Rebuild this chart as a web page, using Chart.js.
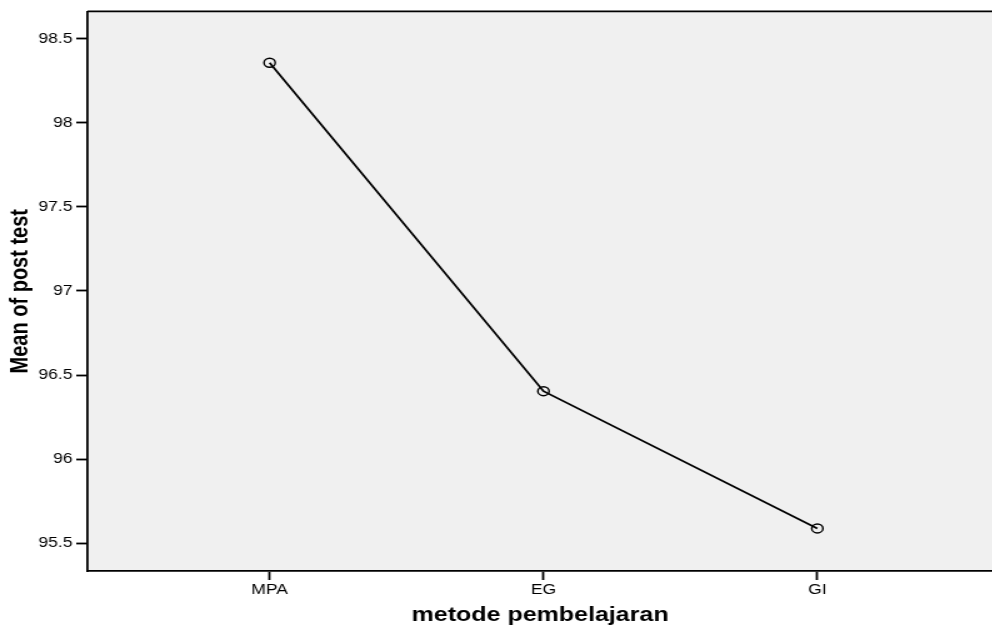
<!DOCTYPE html>
<html>
<head>
<meta charset="utf-8">
<script src="https://cdn.jsdelivr.net/npm/chart.js@4"></script>
<style>
    html, body { margin: 0; padding: 0; background: #fff; overflow: hidden; width: 992px; height: 626px; }
    /* the reference image is stretched horizontally, so the chart is drawn narrow and scaled */
    #wrap { width: 800px; height: 626px; transform: scaleX(1.25); transform-origin: 0 0; }
</style>
</head>
<body>
<div id="wrap"><canvas id="grafico" width="800" height="626"></canvas></div>
<script>
// dados
const metodos = ['MPA', 'EG', 'GI'];
const mediaPostTest = [98.357, 96.404, 95.588];
const yTicks = [95.5, 96, 96.5, 97, 97.5, 98, 98.5];
const yTickLabels = ['95.5', '96', '96.5', '97', '97.5', '98', '98.5'];

const fonte = "'Liberation Sans', Arial, sans-serif";

// fundo cinza e borda de cima da área do gráfico
const fundoPlot = {
    id: 'fundoPlot',
    beforeDraw(chart) {
        const { ctx, chartArea: a } = chart;
        ctx.save();
        ctx.fillStyle = '#f0f0f0';
        ctx.fillRect(a.left, a.top, a.right - a.left, a.bottom - a.top);
        ctx.restore();
    },
    afterDraw(chart) {
        const { ctx, chartArea: a } = chart;
        ctx.save();
        ctx.strokeStyle = '#000';
        ctx.lineWidth = 1.8;
        ctx.beginPath();
        ctx.moveTo(a.left, a.top);
        ctx.lineTo(a.right, a.top);
        ctx.stroke();
        ctx.restore();
    }
};

const ctx = document.getElementById('grafico').getContext('2d');
new Chart(ctx, {
    type: 'line',
    data: {
        datasets: [{
            data: mediaPostTest.map((v, i) => ({ x: i, y: v })),
            borderColor: '#000',
            borderWidth: 1.8,
            pointRadius: 4.5,
            pointBorderWidth: 1.4,
            pointBackgroundColor: 'rgba(0,0,0,0)',
            pointBorderColor: '#000',
            tension: 0
        }]
    },
    options: {
        responsive: false,
        animation: false,
        layout: { padding: { top: 6, left: 0, right: 0, bottom: 0 } },
        plugins: { legend: { display: false }, tooltip: { enabled: false } },
        scales: {
            x: {
                type: 'linear',
                min: -0.665,
                max: 2.64,
                afterBuildTicks: s => { s.ticks = metodos.map((m, i) => ({ value: i })); },
                afterFit: s => { s.height = 55; },
                border: { display: true, color: '#000', width: 1.8 },
                grid: { drawOnChartArea: false, drawTicks: true, tickLength: 9, tickColor: '#000', tickWidth: 1.8 },
                ticks: {
                    callback: v => metodos[v],
                    color: '#000',
                    padding: 2,
                    maxRotation: 0,
                    font: { family: fonte, size: 14 }
                },
                title: {
                    display: true,
                    text: 'metode pembelajaran',
                    color: '#000',
                    padding: { top: 0, bottom: -1 },
                    font: { family: fonte, size: 20, weight: 'bold' }
                }
            },
            y: {
                min: 95.335,
                max: 98.662,
                afterBuildTicks: s => { s.ticks = yTicks.map(v => ({ value: v })); },
                afterFit: s => { s.width = 70; },
                border: { display: true, color: '#000', width: 1.8 },
                grid: { drawOnChartArea: false, drawTicks: true, tickLength: 9, tickColor: '#000', tickWidth: 1.8 },
                ticks: {
                    callback: (v, i) => yTickLabels[i],
                    color: '#000',
                    padding: 3,
                    font: { family: fonte, size: 14 }
                },
                title: {
                    display: true,
                    text: 'Mean of post test',
                    color: '#000',
                    padding: { top: 4, bottom: 0 },
                    font: { family: fonte, size: 20, weight: 'bold' }
                }
            }
        }
    },
    plugins: [fundoPlot]
});
</script>
</body>
</html>
